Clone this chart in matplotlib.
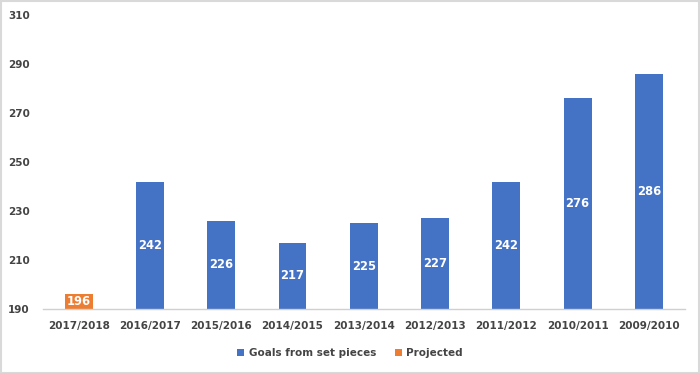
import matplotlib.pyplot as plt
from matplotlib.patches import Rectangle

seasons = ['2017/2018', '2016/2017', '2015/2016', '2014/2015', '2013/2014',
           '2012/2013', '2011/2012', '2010/2011', '2009/2010']
set_piece_goals = [None, 242, 226, 217, 225, 227, 242, 276, 286]
projected = [196, None, None, None, None, None, None, None, None]

blue = '#4472C4'
orange = '#ED7D31'
txt = '#444444'
base = 190

plt.rcParams['font.family'] = ['DejaVu Sans']
plt.rcParams['font.weight'] = 'bold'

fig = plt.figure(figsize=(7, 3.73), dpi=100)
ax = fig.add_axes([0.0614, 0.1716, 0.978 - 0.0614, 0.9598 - 0.1716])

x = list(range(len(seasons)))
for series, color, name in [(set_piece_goals, blue, 'Goals from set pieces'),
                            (projected, orange, 'Projected')]:
    xs = [i for i, v in zip(x, series) if v is not None]
    vals = [v for v in series if v is not None]
    bars = ax.bar(xs, [v - base for v in vals], bottom=base, width=0.39,
                  color=color, label=name)
    for b, v in zip(bars, vals):
        ax.text(b.get_x() + b.get_width() / 2, base + (v - base) / 2, str(v),
                ha='center', va='center', color='white', fontsize=8.3,
                fontweight='bold')

ax.set_xlim(-0.5, len(seasons) - 0.5)
ax.set_ylim(190, 310)
ax.set_yticks(range(190, 311, 20))
ax.set_xticks(x)
ax.set_xticklabels(seasons)
ax.tick_params(axis='both', length=0, labelsize=7.5, labelcolor=txt)
ax.tick_params(axis='y', pad=9.5)
ax.tick_params(axis='x', pad=9)
for s in ['top', 'right', 'left']:
    ax.spines[s].set_visible(False)
ax.spines['bottom'].set_color('#d0d0d0')
ax.spines['bottom'].set_linewidth(1)

fig.legend(loc='center', bbox_to_anchor=(0.5, 0.054), ncol=2, frameon=False,
           fontsize=7.5, labelcolor=txt, handlelength=0.7, handleheight=0.7,
           handletextpad=0.4, columnspacing=1.8)

fig.patches.append(Rectangle((0.001, 0.001), 0.997, 0.996, transform=fig.transFigure,
                             fill=False, edgecolor='#d9d9d9', linewidth=1.5))

fig.savefig('out.png', dpi=100)
